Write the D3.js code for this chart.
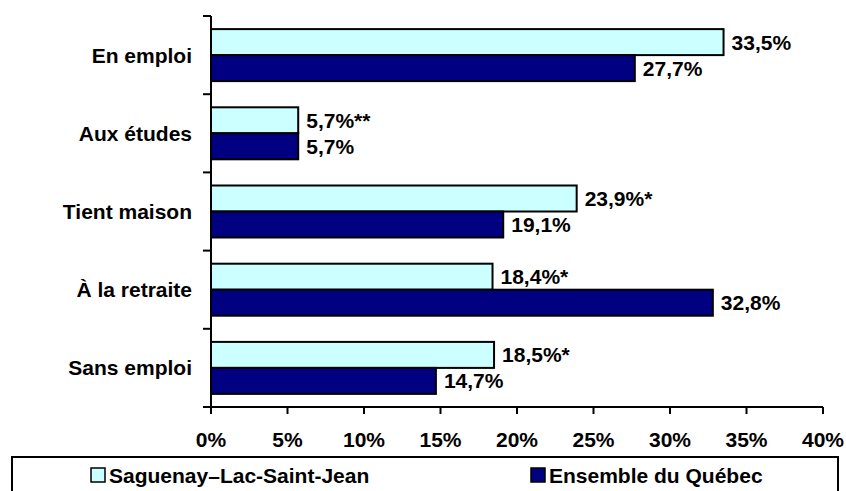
<!DOCTYPE html>
<html><head><meta charset="utf-8">
<script src="https://cdn.jsdelivr.net/npm/d3@7"></script>
<style>
html,body{margin:0;padding:0;background:#fff;}
svg{display:block;}
text{font-family:"Liberation Sans",Arial,sans-serif;font-weight:bold;fill:#000;}
</style></head>
<body>
<svg id="chart" width="846" height="491"></svg>
<script>
const categories = ["En emploi", "Aux études", "Tient maison", "À la retraite", "Sans emploi"];
const seriesNames = ["Saguenay–Lac-Saint-Jean", "Ensemble du Québec"];
const slsj = [33.5, 5.7, 23.9, 18.4, 18.5];
const quebec = [27.7, 5.7, 19.1, 32.8, 14.7];
const slsjNotes = ["", "**", "*", "*", "*"];
const quebecNotes = ["", "", "", "", ""];
const xTicks = [0, 5, 10, 15, 20, 25, 30, 35, 40];
const colors = ["#CCFFFF", "#000080"];

const svg = d3.select("#chart");
const x0 = 211, x1 = 823, yTop = 16, yBot = 407;
const fs = 21;

const x = d3.scaleLinear().domain([0, 40]).range([x0, x1]);
const y = d3.scaleBand().domain(categories).range([yTop, yBot]).paddingInner(0).paddingOuter(0);
const bandH = y.bandwidth();
const barGroup = bandH * 0.665;
const inner = d3.scaleBand().domain([0, 1]).range([0, barGroup]);

const fmt = v => d3.format(".1f")(v).replace(".", ",") + "%";

// bars
const series = [slsj, quebec];
const notes = [slsjNotes, quebecNotes];
series.forEach((vals, si) => {
  const g = svg.append("g");
  g.selectAll("rect").data(vals).join("rect")
    .attr("x", x(0))
    .attr("y", (d, i) => y(categories[i]) + (bandH - barGroup) / 2 + inner(si))
    .attr("width", d => x(d) - x(0))
    .attr("height", inner.bandwidth())
    .attr("fill", colors[si])
    .attr("stroke", "#000")
    .attr("stroke-width", 2);
  g.selectAll("text").data(vals).join("text")
    .attr("x", d => x(d) + 8)
    .attr("y", (d, i) => y(categories[i]) + (bandH - barGroup) / 2 + inner(si) + inner.bandwidth() / 2)
    .attr("dy", "0.36em")
    .style("font-size", fs + "px")
    .text((d, i) => fmt(d) + notes[si][i]);
});

// y axis
const yAxisG = svg.append("g");
yAxisG.append("line").attr("x1", x0).attr("x2", x0).attr("y1", yTop).attr("y2", yBot)
  .attr("stroke", "#000").attr("stroke-width", 2);
const boundaries = categories.map(c => y(c)).concat([yBot]);
yAxisG.selectAll("line.tick").data(boundaries).join("line").attr("class", "tick")
  .attr("x1", x0 - 8).attr("x2", x0).attr("y1", d => d).attr("y2", d => d)
  .attr("stroke", "#000").attr("stroke-width", 2);
yAxisG.selectAll("text").data(categories).join("text")
  .attr("x", x0 - 19)
  .attr("y", d => y(d) + bandH / 2)
  .attr("dy", "0.36em")
  .attr("text-anchor", "end")
  .style("font-size", fs + "px")
  .text(d => d);

// x axis
const xAxisG = svg.append("g");
xAxisG.append("line").attr("x1", x0).attr("x2", x1).attr("y1", yBot).attr("y2", yBot)
  .attr("stroke", "#000").attr("stroke-width", 2);
xAxisG.selectAll("line.tick").data(xTicks).join("line").attr("class", "tick")
  .attr("x1", d => x(d)).attr("x2", d => x(d)).attr("y1", yBot).attr("y2", yBot + 7)
  .attr("stroke", "#000").attr("stroke-width", 2);
xAxisG.selectAll("text").data(xTicks).join("text")
  .attr("x", d => x(d))
  .attr("y", 447)
  .attr("text-anchor", "middle")
  .style("font-size", fs + "px")
  .text(d => d + "%");

// legend
const lg = svg.append("g");
lg.append("rect").attr("x", 12).attr("y", 457).attr("width", 826).attr("height", 50)
  .attr("fill", "#fff").attr("stroke", "#000").attr("stroke-width", 2);
const legendX = [91, 531];
seriesNames.forEach((n, i) => {
  lg.append("rect").attr("x", legendX[i]).attr("y", 468).attr("width", 14).attr("height", 14)
    .attr("fill", colors[i]).attr("stroke", "#000").attr("stroke-width", 1.5);
  lg.append("text").attr("x", legendX[i] + 18).attr("y", 475).attr("dy", "0.36em")
    .style("font-size", fs + "px").text(n);
});
</script>
</body></html>
